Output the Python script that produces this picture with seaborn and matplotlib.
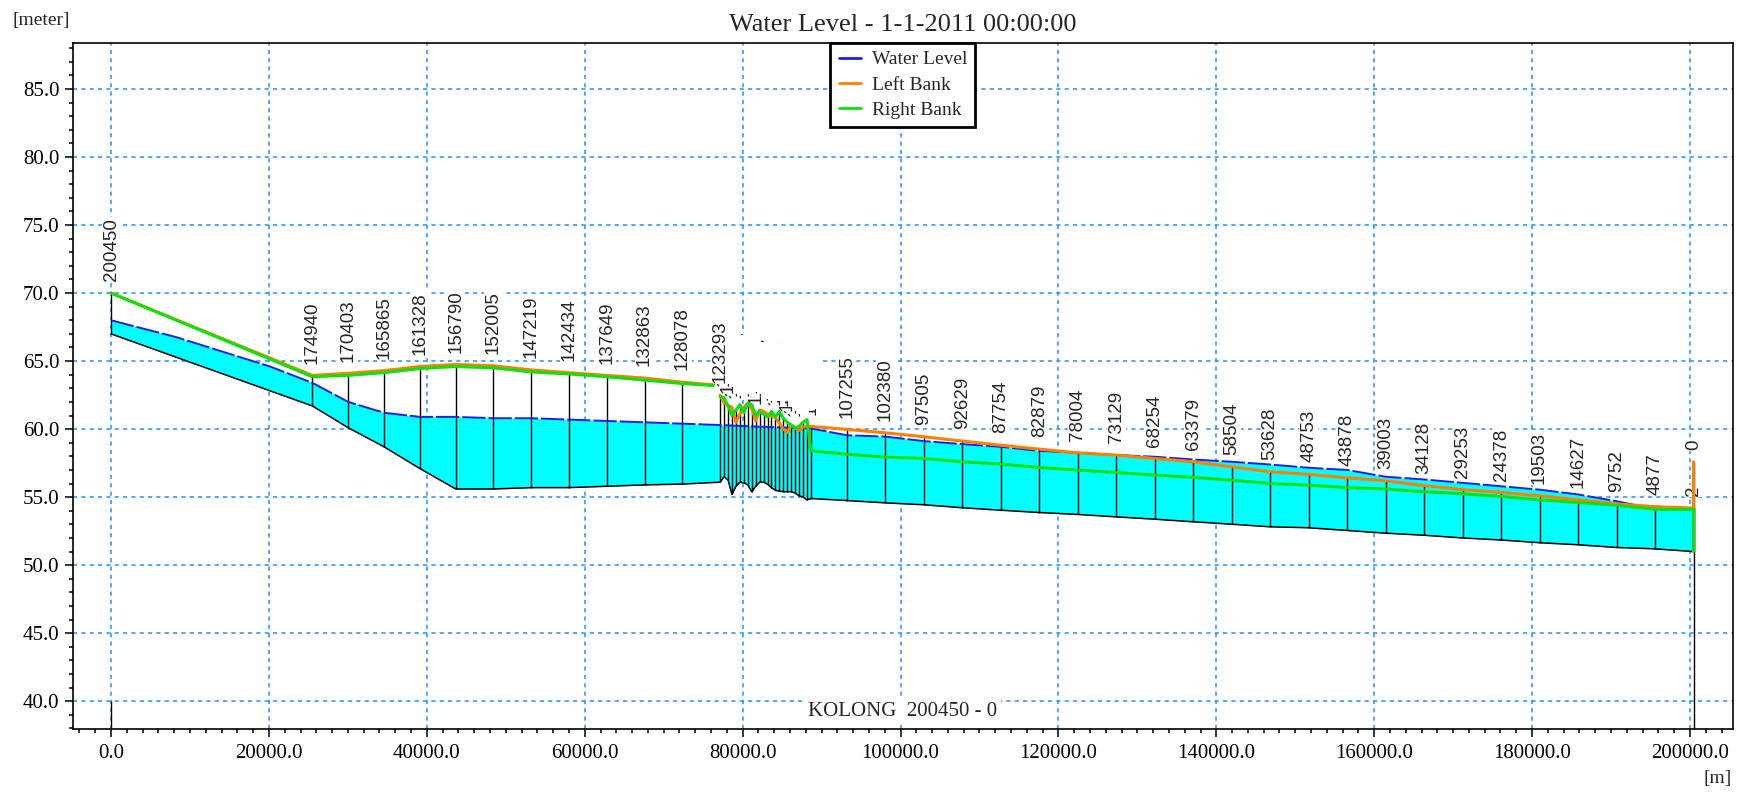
import numpy as np
import pandas as pd
import matplotlib
matplotlib.use("Agg")
import matplotlib.pyplot as plt
from matplotlib.ticker import MultipleLocator, FormatStrFormatter
from matplotlib.lines import Line2D
import seaborn as sns

# ------------------------------------------------------------------ data
reach_length = 200450

section_chainage = [200450, 174940, 170403, 165865, 161328, 156790, 152005, 147219, 142434, 137649, 132863, 128078,
                    123293, 122793, 122293, 121793, 121293, 120793, 120293, 119793, 119293, 118793, 118293, 117793,
                    117293, 116793, 116293, 115793, 115293, 114793, 114293, 113793, 113293, 112793, 112293, 111793,
                    107255, 102380, 97505, 92629, 87754, 82879, 78004, 73129, 68254, 63379, 58504, 53628,
                    48753, 43878, 39003, 34128, 29253, 24378, 19503, 14627, 9752, 4877, 2, 0]

left_bank = [70.0, 63.95, 64.1, 64.3, 64.6, 64.75, 64.65, 64.35, 64.15, 63.95, 63.75, 63.45,
             62.5, 61.9, 61.75, 61.6, 60.5, 61.1, 61.6, 61.9, 61.5, 60.6, 61.4, 61.3,
             61.1, 60.95, 60.85, 60.45, 60.0, 59.75, 60.3, 60.1, 59.9, 60.15, 60.2, 60.2,
             59.98, 59.73, 59.44, 59.12, 58.82, 58.53, 58.26, 58.09, 57.84, 57.6, 57.23, 56.86,
             56.68, 56.42, 56.2, 55.85, 55.55, 55.35, 55.1, 54.8, 54.5, 54.3, 54.2, 57.6]

right_bank = [70.0, 63.85, 63.95, 64.15, 64.45, 64.6, 64.5, 64.2, 64.05, 63.85, 63.6, 63.35,
              62.4, 62.3, 61.7, 61.0, 61.4, 61.8, 61.2, 61.9, 61.8, 61.0, 61.3, 61.1,
              60.9, 61.3, 60.9, 61.3, 60.8, 60.5, 60.3, 60.1, 60.2, 60.5, 60.7, 58.4,
              58.15, 57.95, 57.84, 57.6, 57.43, 57.18, 56.99, 56.81, 56.62, 56.45, 56.25, 56.0,
              55.88, 55.7, 55.6, 55.4, 55.25, 55.05, 54.8, 54.6, 54.4, 54.1, 54.1, 51.0]

bed_level = [67.0, 61.7, 60.1, 58.7, 57.1, 55.6, 55.6, 55.7, 55.7, 55.8, 55.9, 55.96,
             56.1, 56.5, 56.25, 55.2, 55.8, 56.1, 56.05, 55.9, 55.4, 55.8, 56.1, 56.1,
             55.95, 55.7, 55.5, 55.45, 55.4, 55.4, 55.4, 55.3, 55.1, 55.0, 54.8, 54.9,
             54.75, 54.58, 54.44, 54.22, 54.04, 53.87, 53.73, 53.55, 53.38, 53.19, 53.01, 52.82,
             52.75, 52.55, 52.35, 52.2, 52.0, 51.85, 51.65, 51.5, 51.3, 51.2, 51.0, 51.0]

# upstream bank lines stop short of the first dense section
upstream_bank_end_chainage = 124150
upstream_bank_end_left = 63.25
upstream_bank_end_right = 63.2

water_chainage = [200450, 192130, 180310, 174940, 170403, 165865, 161328, 156790, 152005, 147219, 142434,
                  137649, 132863, 128078, 123293, 119293, 115293, 111793, 107255, 102380, 97505, 92629,
                  87754, 82879, 78004, 73129, 68254, 63379, 58504, 53628, 48753, 43878, 39003, 34128,
                  29253, 24378, 19503, 14627, 9752, 4877, 2, 0]
water_level = [68.0, 66.75, 64.6, 63.4, 62.0, 61.2, 60.9, 60.9, 60.8, 60.8, 60.7,
               60.6, 60.5, 60.4, 60.3, 60.2, 60.12, 60.05, 59.55, 59.45, 59.12, 58.9,
               58.7, 58.4, 58.26, 58.1, 57.97, 57.77, 57.6, 57.4, 57.16, 57.0, 56.5, 56.3,
               56.05, 55.8, 55.55, 55.2, 54.7, 54.12, 54.1, 54.1]

datum_chainage = [200450, 0]
datum_top = [40.0, 51.0]

x_ticks = [0, 20000, 40000, 60000, 80000, 100000, 120000, 140000, 160000, 180000, 200000]
y_ticks = [40, 45, 50, 55, 60, 65, 70, 75, 80, 85]
legend_labels = ["Water Level", "Left Bank", "Right Bank"]
title_text = "Water Level - 1-1-2011 00:00:00"
branch_text = "KOLONG  200450 - 0"

# ------------------------------------------------------------------ style
sns.set_theme(style="white")
plt.rcParams["font.family"] = ["Liberation Serif", "DejaVu Serif"]
plt.rcParams["axes.linewidth"] = 1.2

C_WATER = "#2020e0"
C_LEFT = "#ff8000"
C_RIGHT = "#10e010"
C_FILL = "#00ffff"
C_GRID = "#3399ff"

fig = plt.figure(figsize=(17.53, 7.92), dpi=100)
ax = fig.add_axes([0.04136, 0.07955, 0.94723, 0.86654])

ymin, ymax = 37.96, 88.4
ax.set_xlim(-4880, 205450)
ax.set_ylim(ymin, ymax)

sec = pd.DataFrame({"chainage": section_chainage, "left": left_bank,
                    "right": right_bank, "bed": bed_level})
sec["x"] = reach_length - sec["chainage"]
sec["top"] = sec[["left", "right"]].max(axis=1)
sec["seg"] = np.where(sec["chainage"] > 125000, 0, 1)
ext = pd.DataFrame({"chainage": [upstream_bank_end_chainage], "left": [upstream_bank_end_left],
                    "right": [upstream_bank_end_right], "seg": [0]})
ext["x"] = reach_length - ext["chainage"]
banks = pd.concat([sec[sec["seg"] == 0], ext, sec[sec["seg"] == 1]], ignore_index=True)

wat = pd.DataFrame({"x": reach_length - np.array(water_chainage), "level": water_level})

# water body fill between bed and water surface
xx = np.union1d(wat["x"].values, sec["x"].values)
ax.fill_between(xx, np.interp(xx, sec["x"], sec["bed"]), np.interp(xx, wat["x"], wat["level"]),
                color=C_FILL, lw=0, zorder=2)

# section lines and datum markers
ax.vlines(sec["x"], sec["bed"], sec["top"], colors="black", lw=1.0, zorder=2.5)
ax.vlines(reach_length - np.array(datum_chainage), ymin, datum_top, colors="black", lw=1.0, zorder=2.5)

sns.lineplot(data=sec, x="x", y="bed", estimator=None, sort=False, color="black", lw=1.1, ax=ax, zorder=2.6)
sns.lineplot(data=wat, x="x", y="level", estimator=None, sort=False, color=C_WATER, lw=1.4, ax=ax,
             zorder=3, dashes=False, linestyle=(0, (12, 1.5)))
sns.lineplot(data=banks, x="x", y="left", units="seg", estimator=None, sort=False, color=C_LEFT, lw=2.2,
             ax=ax, zorder=3.2)
sns.lineplot(data=banks, x="x", y="right", units="seg", estimator=None, sort=False, color=C_RIGHT, lw=2.2,
             ax=ax, zorder=3.3)

# chainage labels (opaque, leftmost on top)
for i, row in sec.iterrows():
    ax.annotate(str(int(row["chainage"])), xy=(row["x"], row["top"]), xytext=(0, 8.5),
                textcoords="offset points", rotation=90, ha="center", va="bottom",
                fontsize=13.5, family=["Liberation Sans", "DejaVu Sans"],
                bbox=dict(boxstyle="square,pad=0.05", fc="white", ec="none"),
                zorder=1.9 - i * 0.001, annotation_clip=False)

ax.text(0.5, 0.026, branch_text, transform=ax.transAxes, ha="center", va="center", fontsize=15,
        bbox=dict(boxstyle="square,pad=0.2", fc="white", ec="none"), zorder=1.95)

# axes
ax.set_xticks(x_ticks)
ax.set_yticks(y_ticks)
ax.xaxis.set_minor_locator(MultipleLocator(2000))
ax.yaxis.set_minor_locator(MultipleLocator(1))
ax.xaxis.set_major_formatter(FormatStrFormatter("%.1f"))
ax.yaxis.set_major_formatter(FormatStrFormatter("%.1f"))
ax.tick_params(which="both", direction="out", bottom=True, left=True, top=False, right=False,
               colors="black", labelsize=15, width=1.1)
ax.tick_params(axis="x", which="major", length=5.8, pad=5)
ax.tick_params(axis="y", which="major", length=5.8, pad=3.5)
ax.tick_params(which="minor", length=3.2)
ax.set_xlabel("")
ax.set_ylabel("")
ax.set_axisbelow(True)
ax.grid(True, which="major", color=C_GRID, linestyle=(0, (2.5, 2.5)), lw=1.2)
for s in ax.spines.values():
    s.set_color("black")
    s.set_linewidth(1.2)

handles = [Line2D([], [], color=c, lw=2) for c in (C_WATER, C_LEFT, C_RIGHT)]
leg = ax.legend(handles, legend_labels, loc="upper center", bbox_to_anchor=(0.5, 1.0), borderaxespad=0,
                frameon=True, fancybox=False, framealpha=1, edgecolor="black", fontsize=14,
                handlelength=1.15, handletextpad=0.55, labelspacing=0.4, borderpad=0.42)
leg.get_frame().set_linewidth(2)
leg.set_zorder(10)

fig.text(0.515, 0.969, title_text, ha="center", va="center", fontsize=19)
fig.text(12 / 1753, 1 - 20 / 792, "[meter]", ha="left", va="center", fontsize=14)
fig.text(1732 / 1753, 1 - 778 / 792, "[m]", ha="right", va="center", fontsize=14)

fig.savefig("out.png", dpi=100)
